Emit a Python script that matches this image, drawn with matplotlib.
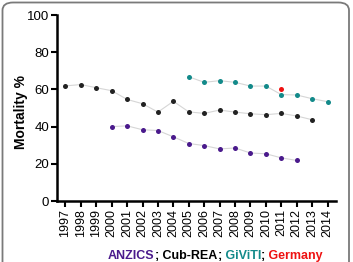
import matplotlib
matplotlib.use("Agg")
import matplotlib.pyplot as plt
from matplotlib.patches import FancyBboxPatch

plt.rcParams['font.family'] = ['Liberation Sans', 'DejaVu Sans']

years = list(range(1997, 2015))
cub_years = list(range(1997, 2014))
cub_rea = [61.9, 62.6, 60.9, 59.3, 54.6, 52.3, 47.8, 53.6, 47.9, 47.1, 48.9, 47.8, 46.9, 46.4, 47.1, 45.7, 43.7]
anzics_years = list(range(2000, 2013))
anzics = [40.0, 40.4, 38.3, 37.9, 34.5, 30.9, 29.8, 28.0, 28.5, 25.8, 25.4, 23.2, 21.8]
giviti_years = list(range(2005, 2015))
giviti = [66.8, 63.8, 64.7, 63.8, 61.8, 61.8, 57.2, 57.0, 55.0, 53.4]
germany_years = [2011]
germany = [60.4]
yticks = [0, 20, 40, 60, 80, 100]

c_anz = "#4a1a8c"
c_cub = "#222222"
c_giv = "#138a8a"
c_ger = "#ee1111"

fig = plt.figure(figsize=(3.53, 2.62), dpi=100)
ax = fig.add_axes([57/353, 61/262, (336-57)/353, 186/262])

line_kw = dict(color="#d6d6d6", lw=0.8, zorder=1)
mk_kw = dict(s=13, zorder=3, linewidths=0)
for xs, ys, c in [(cub_years, cub_rea, c_cub), (anzics_years, anzics, c_anz), (giviti_years, giviti, c_giv)]:
    ax.plot(xs, ys, **line_kw)
    ax.scatter(xs, ys, color=c, **mk_kw)
ax.scatter(germany_years, germany, color=c_ger, s=13, zorder=2, linewidths=0)

ax.set_xlim(1996.45, 2014.55)
ax.set_ylim(0, 100)
ax.set_xticks(years)
ax.set_xticklabels([str(y) for y in years], rotation=90, fontsize=9)
ax.set_yticks(yticks)
ax.set_yticklabels([str(v) for v in yticks], fontsize=9.5)
for s in ["top", "right"]:
    ax.spines[s].set_visible(False)
for s in ["left", "bottom"]:
    ax.spines[s].set_linewidth(1.8)
ax.tick_params(axis="both", width=1.5, length=4, pad=1.5, colors="black")
ax.set_ylabel("Mortality %", fontsize=10, fontweight="bold", va="center")
ax.yaxis.set_label_coords(-(57 - 21) / (336 - 57), (201 - 112) / 186)

# colored legend text
parts = [("ANZICS", c_anz), (";", "black"), (" Cub-REA", "black"), (";", "black"),
         (" GiViTI", c_giv), (";", "black"), (" Germany", c_ger)]
fig.canvas.draw()
renderer = fig.canvas.get_renderer()
texts = []
for s, c in parts:
    t = fig.text(0, 5.8/262, s, color=c, fontsize=9, fontweight="bold", va="center", ha="left")
    texts.append(t)
widths = []
for t in texts:
    bb = t.get_window_extent(renderer=renderer)
    widths.append(bb.width / 353)
total = sum(widths)
start = 215.5/353 - total/2
for t, w in zip(texts, widths):
    t.set_x(start)
    start += w

border = FancyBboxPatch((2.5/353, -0.2), 346.5/353, 1.2 - 2.5/262,
                        boxstyle="round,pad=0,rounding_size=0.03",
                        transform=fig.transFigure, fill=False,
                        edgecolor="#7a7a7a", lw=1.3, clip_on=False)
fig.patches.append(border)

fig.savefig("out.png", dpi=100)
